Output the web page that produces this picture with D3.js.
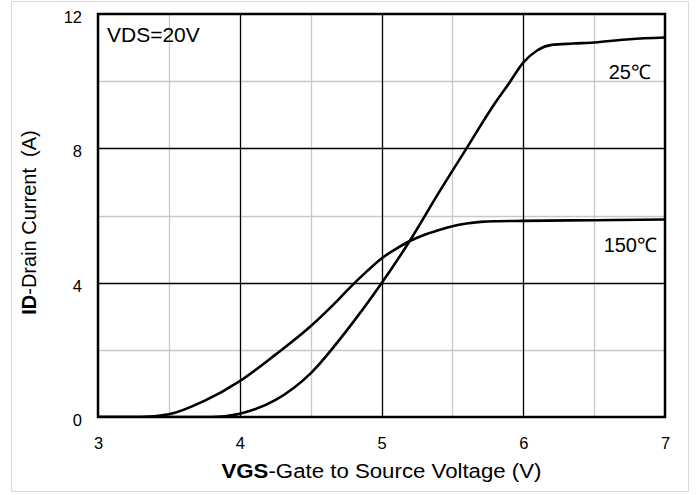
<!DOCTYPE html>
<html>
<head>
<meta charset="utf-8">
<script src="https://cdn.jsdelivr.net/npm/d3@7"></script>
<style>
  html, body { margin: 0; padding: 0; background: #fff; }
  svg { display: block; font-family: "Liberation Sans", Arial, sans-serif; }
</style>
</head>
<body>
<svg id="chart" width="697" height="495"></svg>
<script>
// ---- data ----
const xTicks = [3, 4, 5, 6, 7];
const yTicks = [0, 4, 8, 12];
const xMinor = [3.5, 4.5, 5.5, 6.5];
const yMinor = [2, 6, 10];

const vgs150 = [3.0, 3.3, 3.5, 3.75, 4.0, 4.25, 4.5, 4.65, 4.8, 4.9, 5.0, 5.1, 5.2, 5.3, 5.4, 5.5, 5.6, 5.7, 5.8, 6.0, 6.5, 7.0];
const id150  = [0, 0, 0.08, 0.48, 1.07, 1.85, 2.7, 3.3, 3.95, 4.35, 4.72, 5.0, 5.24, 5.42, 5.56, 5.68, 5.76, 5.81, 5.83, 5.84, 5.86, 5.88];

const vgs25 = [3.0, 3.8, 4.0, 4.25, 4.5, 4.75, 5.0, 5.2, 5.4, 5.6, 5.8, 5.9, 6.0, 6.1, 6.2, 6.35, 6.5, 6.75, 7.0];
const id25  = [0, 0, 0.1, 0.5, 1.3, 2.55, 3.98, 5.25, 6.65, 8.0, 9.34, 9.94, 10.55, 10.92, 11.08, 11.12, 11.15, 11.25, 11.3];

const seriesLabels = ["25℃", "150℃"];
const noteText = "VDS=20V";

// ---- layout ----
const svg = d3.select("#chart");
const L = 98, R = 665, T = 14, B = 417;
const x = d3.scaleLinear().domain([3, 7]).range([L, R]);
const y = d3.scaleLinear().domain([0, 12]).range([B, T]);

// outer border
svg.append("rect").attr("x", 11.5).attr("y", 1.5).attr("width", 677).attr("height", 490)
  .attr("fill", "none").attr("stroke", "#d9d9d9").attr("stroke-width", 1);

// minor grid
svg.append("g").selectAll("line").data(xMinor).join("line")
  .attr("x1", d => Math.round(x(d)) + 0.5).attr("x2", d => Math.round(x(d)) + 0.5)
  .attr("y1", T).attr("y2", B).attr("stroke", "#c8c8c8").attr("stroke-width", 1.3);
svg.append("g").selectAll("line").data(yMinor).join("line")
  .attr("y1", d => Math.round(y(d)) + 0.5).attr("y2", d => Math.round(y(d)) + 0.5)
  .attr("x1", L).attr("x2", R).attr("stroke", "#c8c8c8").attr("stroke-width", 1.3);

// major grid
svg.append("g").selectAll("line").data(xTicks.slice(1, -1)).join("line")
  .attr("x1", d => Math.round(x(d)) + 0.5).attr("x2", d => Math.round(x(d)) + 0.5)
  .attr("y1", T).attr("y2", B).attr("stroke", "#000").attr("stroke-width", 1.3);
svg.append("g").selectAll("line").data(yTicks.slice(1, -1)).join("line")
  .attr("y1", d => Math.round(y(d)) + 0.5).attr("y2", d => Math.round(y(d)) + 0.5)
  .attr("x1", L).attr("x2", R).attr("stroke", "#000").attr("stroke-width", 1.3);

// curves
const line = d3.line().x(d => x(d[0])).y(d => y(d[1])).curve(d3.curveMonotoneX);
const s150 = vgs150.map((v, i) => [v, id150[i]]);
const s25 = vgs25.map((v, i) => [v, id25[i]]);
svg.append("defs").append("clipPath").attr("id", "clip")
  .append("rect").attr("x", L).attr("y", T).attr("width", R - L).attr("height", B - T);
const cg = svg.append("g").attr("clip-path", "url(#clip)");
[s150, s25].forEach(s => {
  cg.append("path").datum(s).attr("d", line)
    .attr("fill", "none").attr("stroke", "#000").attr("stroke-width", 2.6)
    .attr("stroke-linejoin", "round");
});

// frame
svg.append("rect").attr("x", L).attr("y", T).attr("width", R - L).attr("height", B - T)
  .attr("fill", "none").attr("stroke", "#000").attr("stroke-width", 2.5);

// axes (labels only)
const xAxis = svg.append("g").attr("transform", `translate(0,${B})`)
  .call(d3.axisBottom(x).tickValues(xTicks).tickSize(0).tickPadding(20).tickFormat(d3.format("d")));
const yAxis = svg.append("g").attr("transform", `translate(${L},0)`)
  .call(d3.axisLeft(y).tickValues(yTicks).tickSize(0).tickPadding(16).tickFormat(d3.format("d")));
[xAxis, yAxis].forEach(a => {
  a.select(".domain").remove();
  a.selectAll("text").attr("font-size", 16.5).attr("fill", "#000")
    .attr("font-family", "'Liberation Sans', Arial, sans-serif");
});
yAxis.selectAll("text").attr("dy", "0.52em");
xAxis.selectAll("text").attr("dy", "0.71em");

// axis titles
const xt = svg.append("text").attr("x", (L + R) / 2).attr("y", 478)
  .attr("text-anchor", "middle").attr("font-size", 20).attr("fill", "#000")
  .attr("textLength", 320).attr("lengthAdjust", "spacingAndGlyphs");
xt.append("tspan").attr("font-weight", "bold").text("VGS");
xt.append("tspan").text("-Gate to Source Voltage (V)");

const yt = svg.append("text").attr("transform", `translate(36,${(128 + 317) / 2}) rotate(-90)`)
  .attr("text-anchor", "middle").attr("font-size", 20).attr("fill", "#000")
  .style("white-space", "pre");
yt.append("tspan").attr("font-weight", "bold").text("ID");
yt.append("tspan").text("-Drain Current  (A)");

// annotations
svg.append("text").attr("x", 107).attr("y", 41.5).attr("font-size", 21).attr("fill", "#000").text(noteText);
svg.append("text").attr("x", 651).attr("y", 78.5).attr("text-anchor", "end")
  .attr("font-size", 20).attr("fill", "#000").text(seriesLabels[0]);
svg.append("text").attr("x", 657).attr("y", 252).attr("text-anchor", "end")
  .attr("font-size", 20).attr("fill", "#000").text(seriesLabels[1]);
</script>
</body>
</html>
